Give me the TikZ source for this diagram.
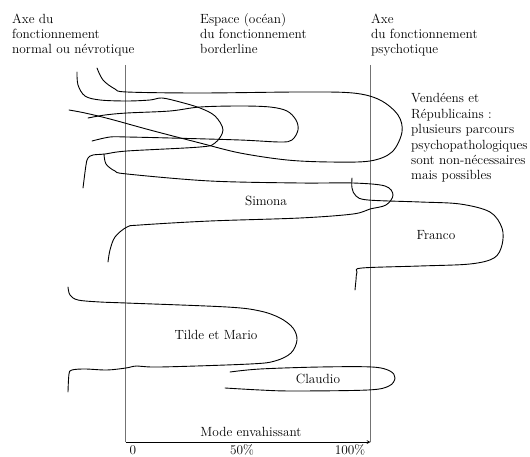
\documentclass[tikz,border=0pt]{standalone}
\usepackage{fontspec}
\usetikzlibrary{positioning}

\begin{document}
\begin{tikzpicture}[x = 1pt, y = -1pt,
    txt/.style = {inner sep = 0pt, align = left, font = \fontsize{13.3}{15}\selectfont},
    lbl/.style = {inner sep = 0pt, font = \fontsize{13.3}{15}\selectfont},
    axis/.style = {draw = black!55, line width = 0.5pt},
    trail/.style = {line width = 0.9pt, line cap = round, line join = round}]
            \useasboundingbox (0,0) rectangle (530,457);
            % headings (base = last line)
            \node[txt, anchor = base west] (normal) at (12,54) {Axe du\\fonctionnement\\normal ou névrotique};
            \node[txt, anchor = base west] (ocean) at (200,54) {Espace (océan)\\du fonctionnement\\borderline};
            \node[txt, anchor = base west] (psy) at (371,54) {Axe\\du fonctionnement\\psychotique};
            \node[txt, anchor = base west, font = \fontsize{13.3}{15.4}\selectfont] (vendee) at (411,180)
              {Vendéens et\\Républicains :\\plusieurs parcours\\psychopathologiques\\sont non-nécessaires\\mais possibles};
            % axes
            \coordinate (ltop) at (125.5,65);
            \coordinate (lbot) at (125.5,442);
            \coordinate (rtop) at (370.5,65);
            \coordinate (rbot) at (370.5,442);
            \draw[axis] (ltop) -- (lbot);
            \draw[axis] (rtop) -- (rbot);
            \draw[-stealth, line width = 0.7pt] (lbot) -- (rbot);
            \node[lbl] (mode) at (251,432) {Mode envahissant};
            \node[lbl, anchor = base] (zero) at (133,454) {0};
            \node[lbl, anchor = base] (half) at (242,454) {50\%};
            \node[lbl, anchor = base] (full) at (350,454) {100\%};
            % Vendéens et Républicains
            \draw[trail] plot[smooth, tension = 0.55] coordinates {(97,68) (103,80) (115,89) (127,92) (200,93) (300,92)
              (353,93) (380,100) (398,115) (402,132) (392,152) (370,161) (330,162) (287,160) (240,153) (200,143)
              (150,130) (110,119) (85,113) (69,110)};
            \draw[trail] plot[smooth, tension = 0.55] coordinates {(77,72) (78,85) (85,96) (100,100) (127,101) (150,100)
              (162,98) (180,102) (200,108) (215,116) (223,130) (215,143) (200,147) (127,151) (105,154) (93,155)
              (88,158) (86,165) (83,188)};
            \draw[trail] plot[smooth, tension = 0.55] coordinates {(88,118) (105,115) (127,113) (170,111) (200,107)
              (240,106) (270,107) (287,111) (296,120) (298,130) (292,140) (280,142) (240,140) (170,138) (127,137)
              (110,137) (92,141)};
            % Simona
            \draw[trail] plot[smooth, tension = 0.55] coordinates {(104,154) (106,164) (115,171) (127,174) (210,181)
              (300,183) (353,183) (385,186) (393,195) (386,205) (370,209) (353,214) (300,218) (210,221) (140,225)
              (127,227) (115,237) (110,250) (108,262)};
            \node[lbl] (simona) at (266,201) {Simona};
            % Franco
            \draw[trail] plot[smooth, tension = 0.55] coordinates {(352,178) (352,188) (356,196) (368,200) (420,202)
              (460,204) (490,212) (502,228) (502,245) (494,258) (470,264) (420,266) (362,268) (357,272) (356,280)
              (355,290)};
            \node[lbl] (franco) at (436,235) {Franco};
            % Tilde et Mario
            \draw[trail] plot[smooth, tension = 0.55] coordinates {(68,287) (70,295) (78,300) (100,302) (126,303)
              (227,307) (260,311) (280,318) (293,328) (297,340) (291,353) (275,361) (250,364) (160,367) (137,366)
              (126,368) (107,370) (85,369) (72,370) (69,374) (68,392)};
            \node[lbl] (tilde) at (216,335) {Tilde et Mario};
            % Claudio
            \draw[trail] plot[smooth, tension = 0.55] coordinates {(230,372) (260,369) (320,367) (372,367) (390,371)
              (395,378) (389,386) (368,390) (293,391) (260,390) (225,388)};
            \node[lbl] (claudio) at (318,379) {Claudio};
        \end{tikzpicture}
\end{document}
